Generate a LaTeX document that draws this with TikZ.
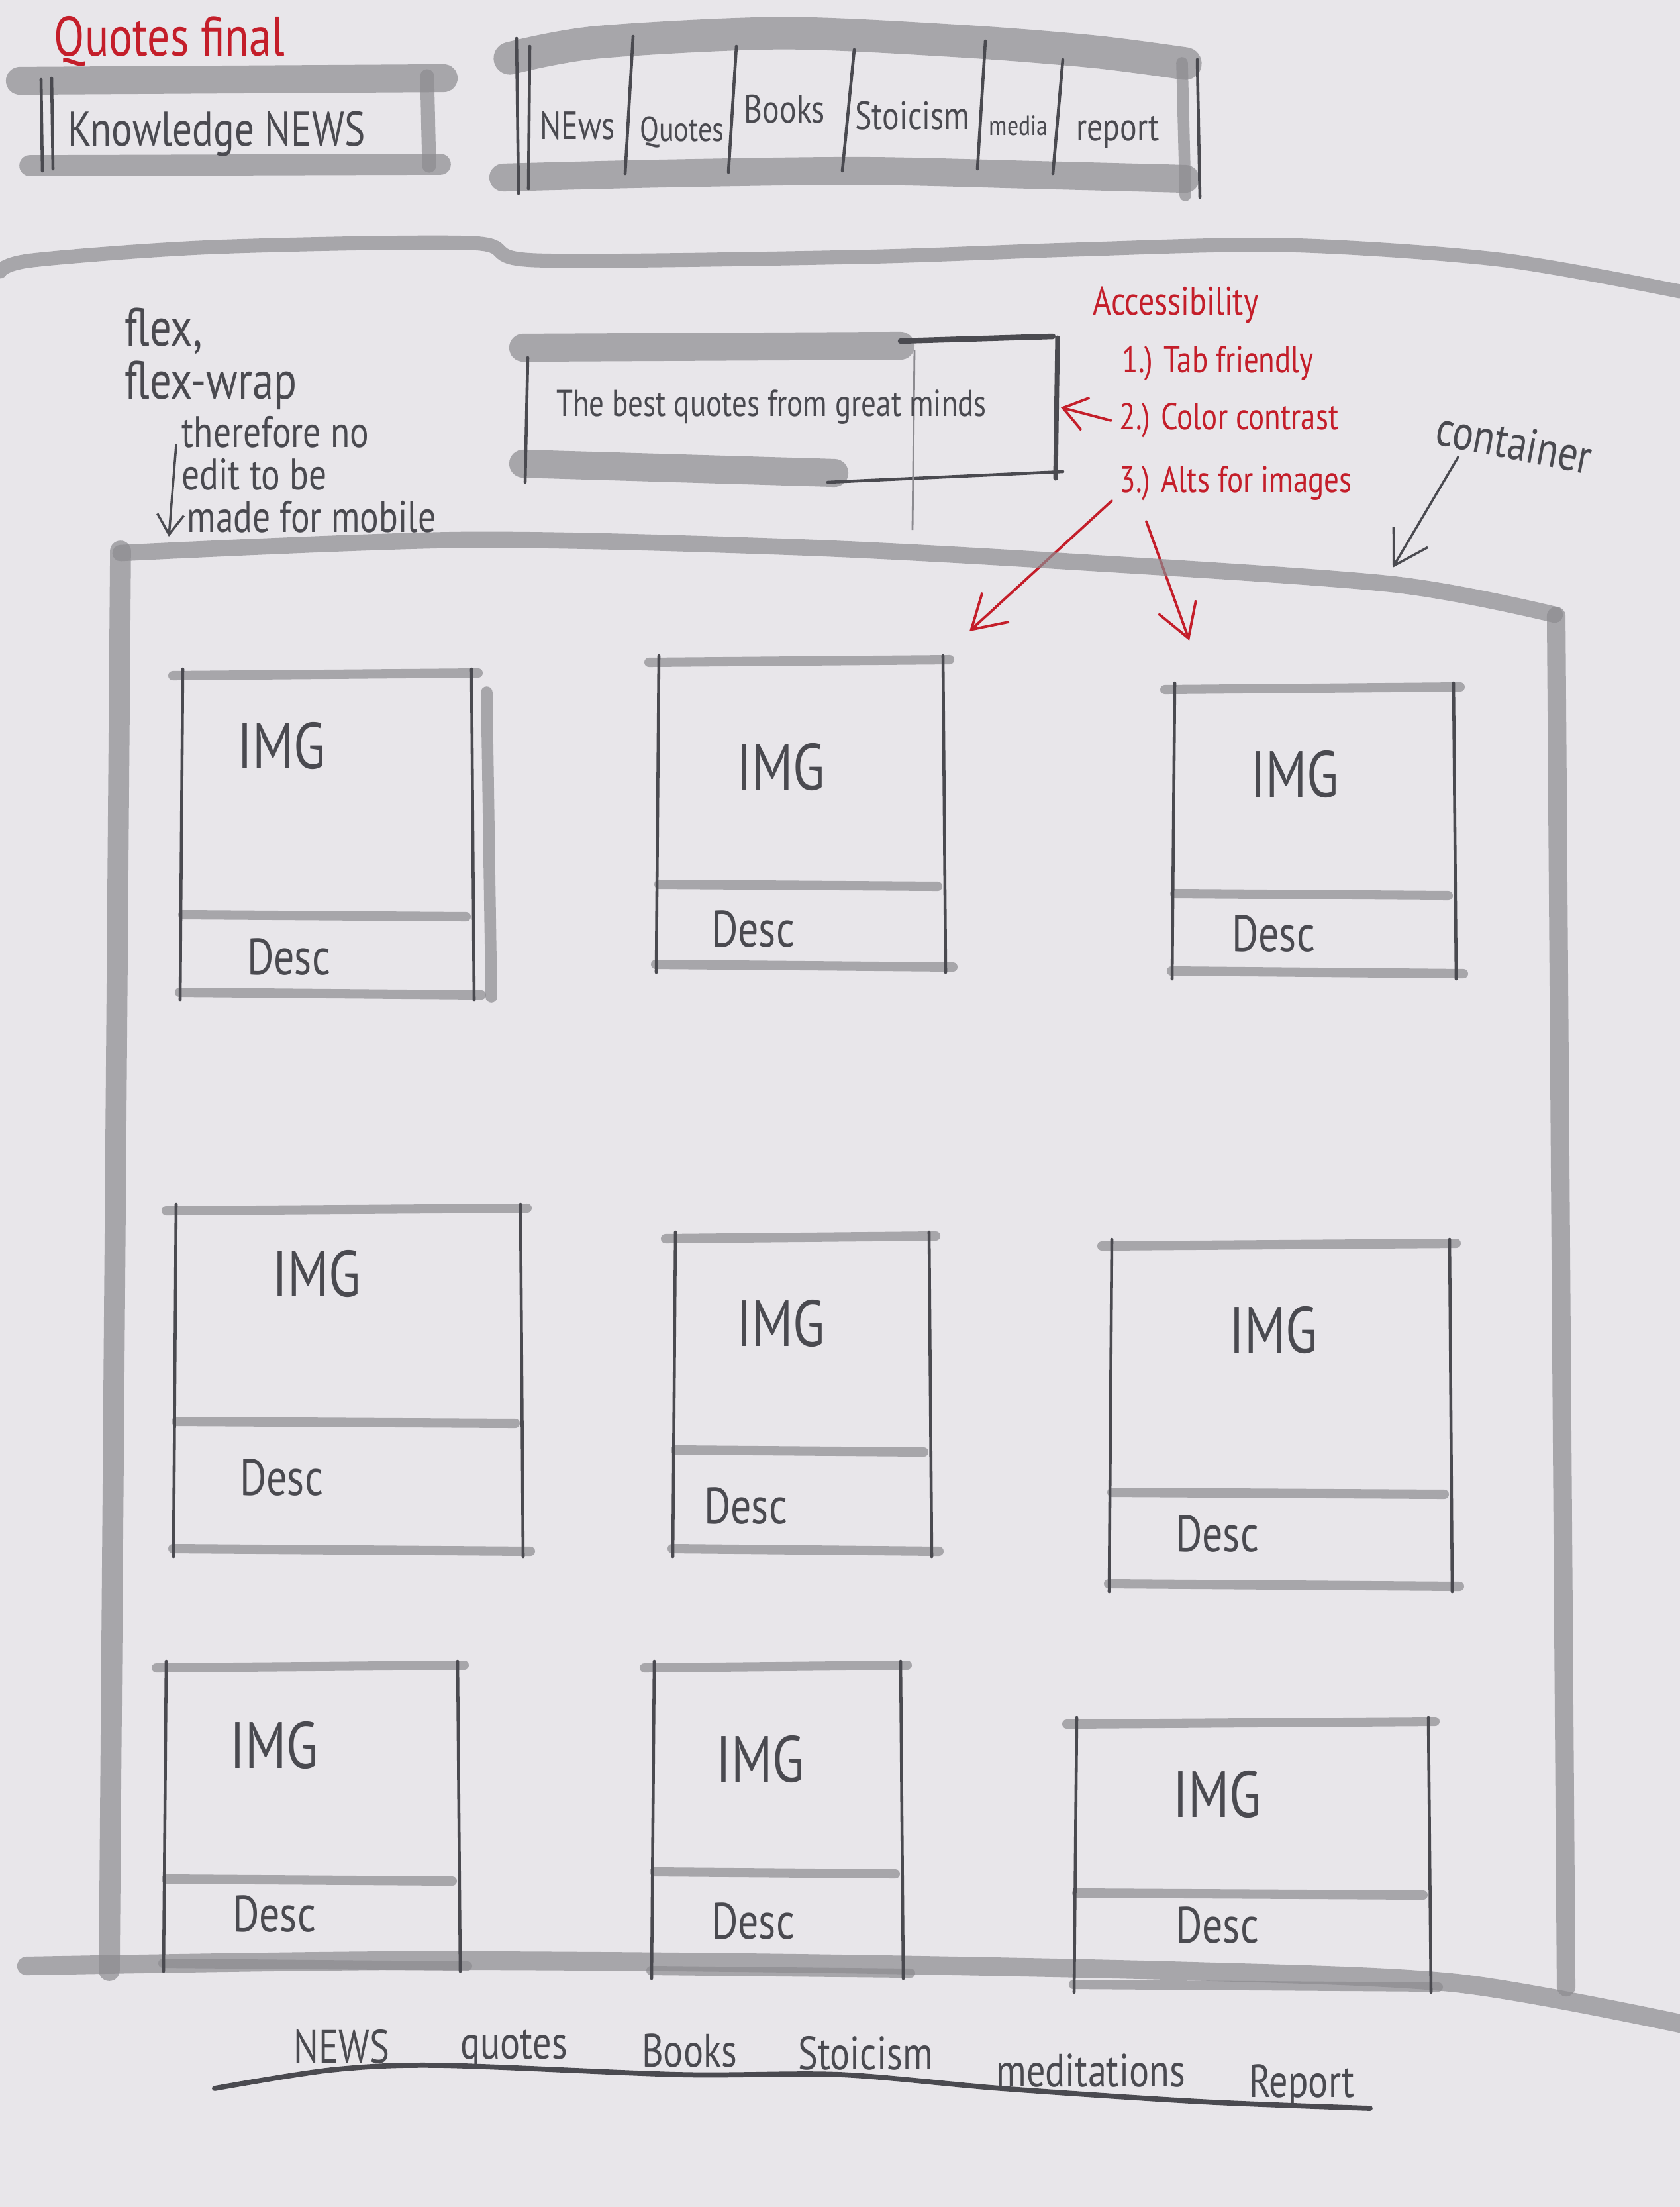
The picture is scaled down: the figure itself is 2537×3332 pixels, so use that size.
\documentclass[tikz,border=0pt]{standalone}
\usepackage{fontspec}
\setmainfont{PT Sans}[FakeStretch=0.8]
\usetikzlibrary{arrows.meta}

\definecolor{paper}{HTML}{E8E6EA}
\definecolor{lead}{HTML}{4A4A50}
\definecolor{shade}{HTML}{8C8B90}
\definecolor{ink}{HTML}{C41E2A}

\newcommand\hsz[1]{\fontsize{#1pt}{#1pt}\selectfont}

\tikzset{
  band/.style={draw=shade, line width=#1, opacity=.7, line cap=round, line join=round},
  band/.default=4pt,
  edge/.style={draw=lead, line width=1.3pt, line cap=round},
  hand/.style={text=lead, inner sep=0pt},
  note/.style={text=ink, inner sep=0pt, anchor=west},
  redarrow/.style={draw=ink, line width=1.1pt, line cap=round,
    -{Straight Barb[length=5mm,width=6mm]}},
  greyarrow/.style={draw=lead, line width=1pt, line cap=round,
    -{Straight Barb[length=5mm,width=6mm]}},
}

% one card: #1 x1, #2 y1 (top), #3 x2, #4 y2 (bottom), #5 divider y
\newcommand\wfcard[5]{%
  \draw[band] ({#1-15},#2) -- ({#3+10},{#2-4});
  \draw[band] (#1,#5) -- ({#3-8},{#5+3});
  \draw[band] ({#1-5},#4) -- ({#3+15},{#4+4});
  \draw[edge] (#1,{#2-10}) -- ({#1-4},{#4+12});
  \draw[edge] (#3,{#2-10}) -- ({#3+4},{#4+12});
}

\begin{document}
\begin{tikzpicture}[x=0.01cm,y=-0.01cm]
\fill[paper] (0,0) rectangle (2537,3332);
\useasboundingbox (0,0) rectangle (2537,3332);

% ---------- header ----------
\node[text=ink, inner sep=0pt, font=\hsz{24}] (title) at (256,62) {Quotes final};

% logo box
\draw[band=12pt] (30,122) -- (670,118);
\draw[band=9pt] (45,250) -- (665,248);
\draw[edge] (62,120) -- (64,258);
\draw[edge] (78,118) -- (80,255);
\draw[band=6pt] (645,115) -- (648,250);
\node[hand, font=\hsz{21}] (logo) at (327,202) {Knowledge NEWS};

% navigation bar
\draw[band=14pt] plot[smooth] coordinates {(770,88) (900,64) (1180,50) (1450,62) (1652,78) (1790,96)};
\draw[band=12pt] plot[smooth] coordinates {(760,268) (1000,262) (1300,258) (1560,264) (1790,270)};
\draw[edge] (780,58) -- (783,292);
\draw[edge] (800,70) -- (798,285);
\draw[band=5pt] (1785,95) -- (1790,295);
\draw[edge] (1808,90) -- (1812,298);
\draw[edge] (956,55) -- (944,262);
\draw[edge] (1112,70) -- (1100,260);
\draw[edge] (1290,75) -- (1272,258);
\draw[edge] (1488,62) -- (1476,255);
\draw[edge] (1605,90) -- (1590,262);
\node[hand, font=\hsz{17}] (navnews)  at (872,190) {NEws};
\node[hand, font=\hsz{15}] (navquote) at (1030,200) {Quotes};
\node[hand, font=\hsz{17}] (navbooks) at (1185,165) {Books};
\node[hand, font=\hsz{17}] (navstoic) at (1378,175) {Stoicism};
\node[hand, font=\hsz{12}] (navmedia) at (1538,190) {media};
\node[hand, font=\hsz{17}] (navrep)   at (1688,200) {report};

% header rule
\draw[band=6pt] plot[smooth] coordinates {(0,410) (49,393) (324,373) (712,367) (809,393) (1294,388) (1618,377) (1941,370) (2265,392) (2537,440)};

% ---------- notes ----------
\node[hand, anchor=west, font=\hsz{23}] (flex)  at (188,500) {flex,};
\node[hand, anchor=west, font=\hsz{23}] (wrap)  at (188,582) {flex-wrap};
\node[hand, anchor=west, font=\hsz{19}] (ther)  at (274,652) {therefore no};
\node[hand, anchor=west, font=\hsz{19}] (edit)  at (274,716) {edit to be};
\node[hand, anchor=west, font=\hsz{19}] (mob)   at (282,780) {made for mobile};
\coordinate (downtip) at (255,810);
\draw[greyarrow, -{Straight Barb[length=3mm,width=4mm]}] (ther.west |- 0,672) ++(-8,0) -- (downtip);

% hero box
\draw[band=12pt] (790,525) -- (1360,522);
\draw[edge, line width=2.4pt] (1360,515) -- (1590,508);
\draw[band=12pt] (790,700) -- (1260,714);
\draw[edge] (1250,728) -- (1605,712);
\draw[edge] (797,540) -- (793,728);
\draw[edge, line width=2pt] (1597,510) -- (1594,722);
\draw[draw=shade, line width=0.8pt] (1381,528) -- (1378,800);
\node[hand, font=\hsz{16}] (hero) at (1165,615) {The best quotes from great minds};

% accessibility notes
\node[note, font=\hsz{17}] (acc)  at (1650,460) {Accessibility};
\node[note, font=\hsz{16}] (acc1) at (1694,549) {1.) Tab friendly};
\node[note, font=\hsz{16}] (acc2) at (1690,635) {2.) Color contrast};
\node[note, font=\hsz{16}] (acc3) at (1690,730) {3.) Alts for images};
\draw[redarrow, -{Straight Barb[length=3.5mm,width=5mm]}] (acc2.west) ++(-12,0) -- (hero.east -| 1602,0);

\coordinate (altl) at (1464,953);
\coordinate (altr) at (1796,967);
\draw[redarrow] (1679,756) -- (altl);
\draw[redarrow] (1731,787) -- (altr);

\node[hand, font=\hsz{21}, rotate=-11] (cont) at (2287,668) {container};
\coordinate (conttip) at (2103,857);
\draw[greyarrow] (2202,690) -- (conttip);

% ---------- container ----------
\draw[band=9pt] (182,832) -- (165,2975);
\draw[band=7pt] plot[smooth] coordinates {(182,835) (700,815) (1200,826) (1618,848) (2103,882) (2348,928)};
\draw[band=8pt] (2350,930) -- (2365,3000);
\draw[band=8pt] plot[smooth] coordinates {(40,2968) (600,2960) (1200,2964) (1800,2976) (2200,2994) (2537,3055)};

% ---------- cards ----------
\wfcard{276}{1020}{712}{1498}{1381}
\draw[band=5pt] (735,1045) -- (742,1505);
\node[hand, font=\hsz{28}] (img1)  at (425,1126) {IMG};
\node[hand, font=\hsz{22}] (desc1) at (436,1445) {Desc};

\wfcard{995}{1000}{1424}{1456}{1335}
\node[hand, font=\hsz{28}] (img2)  at (1179,1158) {IMG};
\node[hand, font=\hsz{22}] (desc2) at (1137,1403) {Desc};

\wfcard{1774}{1041}{2195}{1466}{1349}
\node[hand, font=\hsz{28}] (img3)  at (1955,1169) {IMG};
\node[hand, font=\hsz{22}] (desc3) at (1923,1410) {Desc};

\wfcard{266}{1828}{786}{2338}{2146}
\node[hand, font=\hsz{28}] (img4)  at (478,1923) {IMG};
\node[hand, font=\hsz{22}] (desc4) at (425,2231) {Desc};

\wfcard{1020}{1870}{1403}{2338}{2189}
\node[hand, font=\hsz{28}] (img5)  at (1179,1998) {IMG};
\node[hand, font=\hsz{22}] (desc5) at (1126,2274) {Desc};

\wfcard{1679}{1881}{2189}{2391}{2253}
\node[hand, font=\hsz{28}] (img6)  at (1923,2008) {IMG};
\node[hand, font=\hsz{22}] (desc6) at (1838,2316) {Desc};

\wfcard{251}{2518}{691}{2964}{2837}
\node[hand, font=\hsz{28}] (img7)  at (414,2635) {IMG};
\node[hand, font=\hsz{22}] (desc7) at (414,2890) {Desc};

\wfcard{988}{2518}{1360}{2975}{2826}
\node[hand, font=\hsz{28}] (img8)  at (1148,2656) {IMG};
\node[hand, font=\hsz{22}] (desc8) at (1137,2901) {Desc};

\wfcard{1626}{2603}{2157}{2996}{2858}
\node[hand, font=\hsz{28}] (img9)  at (1838,2709) {IMG};
\node[hand, font=\hsz{22}] (desc9) at (1838,2907) {Desc};

% ---------- footer ----------
\draw[draw=lead, line width=2.2pt, line cap=round] plot[smooth] coordinates {(324,3153) (500,3125) (664,3118) (1027,3132) (1269,3132) (1512,3153) (1815,3173) (2069,3183)};
\node[hand, font=\hsz{20}, anchor=base] (fnews)  at (516,3114) {NEWS};
\node[hand, font=\hsz{20}, anchor=base] (fquote) at (776,3108) {quotes};
\node[hand, font=\hsz{20}, anchor=base] (fbooks) at (1041,3120) {Books};
\node[hand, font=\hsz{20}, anchor=base] (fstoic) at (1307,3124) {Stoicism};
\node[hand, font=\hsz{20}, anchor=base] (fmed)   at (1647,3150) {meditations};
\node[hand, font=\hsz{20}, anchor=base] (frep)   at (1966,3166) {Report};
\end{tikzpicture}
\end{document}
